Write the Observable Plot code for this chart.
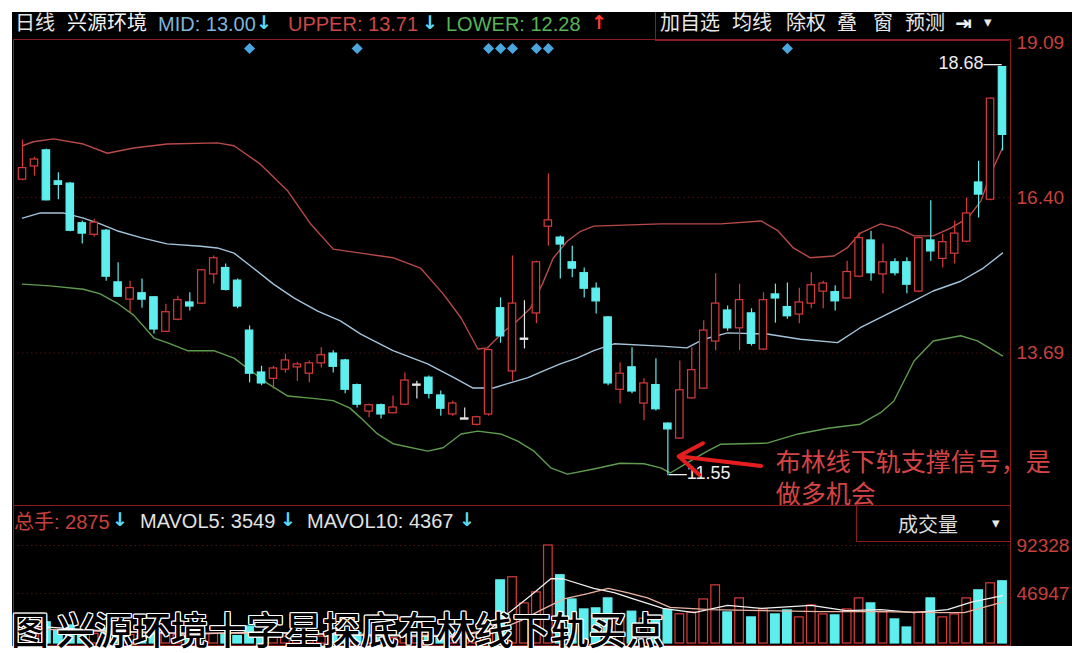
<!DOCTYPE html>
<html>
<head>
<meta charset="utf-8">
<script src="https://cdn.jsdelivr.net/npm/d3@7"></script>
<script src="https://cdn.jsdelivr.net/npm/@observablehq/plot@0.6"></script>
<style>
html,body{margin:0;padding:0;background:#fff;}
#wrap{position:relative;width:1072px;height:653px;overflow:hidden;background:#fff;font-family:"Liberation Sans","Noto Sans CJK SC",sans-serif;}
#panel{position:absolute;left:12px;top:12px;width:1060px;height:634px;background:#000;}
.abs{position:absolute;white-space:nowrap;line-height:1;}
.cjk{font-family:"Noto Sans CJK SC",sans-serif;}
.arr{font-family:"DejaVu Sans",sans-serif;font-weight:bold;}
.layer{position:absolute;left:0;}
.caption{text-shadow:1px 1px 0 #fff,-1px -1px 0 #fff,1px -1px 0 #fff,-1px 1px 0 #fff,0 1px 0 #fff,0 -1px 0 #fff,1px 0 0 #fff,-1px 0 0 #fff;}
</style>
</head>
<body>
<div id="wrap">
  <div id="panel"></div>
  <div id="pricePlot" class="layer" style="top:0"></div>
  <div id="volPlot" class="layer" style="top:505px"></div>

  <!-- price header -->
  <div class="abs cjk" style="left:15px;top:12px;font-size:20px;color:#e4e4e4">日线</div>
  <div class="abs cjk" style="left:67px;top:12px;font-size:20px;color:#f2f2f2">兴源环境</div>
  <div class="abs" style="left:158px;top:14px;font-size:20px;color:#7fb3da">MID: 13.00</div>
  <div class="abs arr" style="left:256px;top:13px;font-size:19px;color:#5fd8f0">↓</div>
  <div class="abs" style="left:288px;top:14px;font-size:20px;color:#c94848">UPPER: 13.71</div>
  <div class="abs arr" style="left:422px;top:13px;font-size:19px;color:#5fd8f0">↓</div>
  <div class="abs" style="left:446px;top:14px;font-size:20px;color:#56b456">LOWER: 12.28</div>
  <div class="abs arr" style="left:591px;top:13px;font-size:19px;color:#ff3a3a">↑</div>

  <!-- toolbar -->
  <div class="abs" style="left:655px;top:12px;width:353px;height:28px;border-left:1px solid #8a1c1c;border-bottom:1px solid #8a1c1c;"></div>
  <div class="abs cjk" style="left:660px;top:12px;font-size:20px;color:#e8e8e8">加自选</div>
  <div class="abs cjk" style="left:732px;top:12px;font-size:20px;color:#e8e8e8">均线</div>
  <div class="abs cjk" style="left:786px;top:12px;font-size:20px;color:#e8e8e8">除权</div>
  <div class="abs cjk" style="left:837px;top:12px;font-size:20px;color:#e8e8e8">叠</div>
  <div class="abs cjk" style="left:873px;top:12px;font-size:20px;color:#e8e8e8">窗</div>
  <div class="abs cjk" style="left:905px;top:12px;font-size:20px;color:#e8e8e8">预测</div>
  <div class="abs arr" style="left:955px;top:13px;font-size:20px;color:#f0f0f0">⇥</div>
  <div class="abs arr" style="left:984px;top:15px;font-size:15px;color:#e8e8e8">▾</div>

  <!-- volume header -->
  <div class="abs" style="left:14px;top:511px;font-size:20px;color:#c8403c"><span class="cjk">总手</span>: 2875</div>
  <div class="abs arr" style="left:112px;top:510px;font-size:19px;color:#5fd8f0">↓</div>
  <div class="abs" style="left:140px;top:511px;font-size:20px;color:#e2e2e2">MAVOL5: 3549</div>
  <div class="abs arr" style="left:280px;top:510px;font-size:19px;color:#5fd8f0">↓</div>
  <div class="abs" style="left:307px;top:511px;font-size:20px;color:#e2e2e2">MAVOL10: 4367</div>
  <div class="abs arr" style="left:459px;top:510px;font-size:19px;color:#5fd8f0">↓</div>
  <div class="abs" style="left:856px;top:505px;width:154px;height:36px;border-left:1px solid #8a1c1c;border-bottom:1px solid #8a1c1c;"></div>
  <div class="abs cjk" style="left:898px;top:514px;font-size:20px;color:#dcdcdc">成交量</div>
  <div class="abs arr" style="left:992px;top:516px;font-size:15px;color:#e8e8e8">▾</div>

  <!-- caption -->
  <div class="abs cjk caption" style="left:11px;top:609px;font-size:38px;font-weight:500;color:#000">图&#8201;兴源环境十字星探底布林线下轨买点</div>
</div>

<script>
// ---- daily OHLC (index 0 = leftmost candle) ----
const open  = [16.72,16.95,17.21,16.67,16.63,15.94,15.76,15.81,14.91,14.63,14.72,14.65,14.07,14.28,14.56,14.56,15.07,15.16,14.94,14.07,
               13.34,13.25,13.41,13.45,13.34,13.52,13.67,13.55,13.12,12.68,12.77,12.65,12.80,13.13,13.25,12.94,12.63,12.54,12.45,12.63,
               14.46,13.38,13.93,14.39,15.90,15.69,15.26,15.07,14.80,14.30,13.06,13.43,12.82,13.12,12.45,12.21,12.91,13.08,13.90,14.42,
               14.13,14.37,13.76,14.70,14.48,14.37,14.56,14.77,14.74,14.65,15.03,15.64,15.07,15.26,15.26,14.77,15.64,15.34,15.43,15.64,
               16.65,16.37,18.66];
const high  = [17.40,17.10,17.24,16.83,16.66,15.99,16.02,15.84,15.26,14.94,14.98,14.67,14.54,14.68,14.74,15.15,15.38,15.24,14.98,14.16,
               13.46,13.46,13.67,13.52,13.55,13.78,13.73,13.58,13.15,12.80,12.80,12.94,13.34,13.20,13.29,13.03,12.85,12.73,12.59,13.76,
               14.65,15.38,14.60,15.29,16.81,15.73,15.55,15.17,14.91,14.32,13.52,13.78,13.24,13.59,12.47,13.55,13.78,14.25,15.07,14.51,
               14.89,14.46,14.74,14.89,14.91,14.82,15.09,14.94,14.86,15.29,15.78,15.81,15.59,15.33,15.35,15.71,16.34,15.76,15.99,16.39,
               17.03,18.13,18.68];
const low   = [16.69,16.77,16.34,16.36,15.80,15.59,15.71,14.94,14.66,14.39,14.47,14.02,14.05,14.25,14.42,14.54,14.89,14.77,14.46,13.17,
               13.12,13.06,13.34,13.20,13.17,13.43,13.34,12.98,12.73,12.56,12.54,12.63,12.77,12.89,12.89,12.59,12.59,12.54,12.42,12.59,
               13.86,13.20,13.76,14.20,15.55,14.98,15.00,14.65,14.37,13.12,12.80,12.98,12.51,12.68,11.55,12.19,12.89,13.06,13.73,14.07,
               13.73,13.81,13.73,14.21,14.28,14.20,14.46,14.46,14.42,14.63,15.00,14.94,14.72,15.03,14.72,14.74,15.29,15.17,15.24,15.61,
               16.04,16.34,17.21];
const close = [16.90,17.05,16.36,16.63,15.83,15.78,15.95,15.03,14.68,14.81,14.63,14.11,14.39,14.60,14.51,15.12,15.33,14.80,14.51,13.34,
               13.17,13.41,13.55,13.48,13.50,13.64,13.46,13.06,12.80,12.77,12.63,12.73,13.20,13.13,12.99,12.73,12.80,12.54,12.56,13.73,
               13.99,14.54,13.93,15.26,15.99,15.59,15.17,14.82,14.60,13.17,13.32,13.03,13.15,12.72,12.37,13.03,13.38,14.07,14.54,14.13,
               14.60,13.86,14.60,14.65,14.34,14.56,14.86,14.89,14.60,15.09,15.68,15.09,15.26,15.09,14.89,15.68,15.47,15.61,15.76,16.11,
               16.46,18.11,17.50];
// ---- daily volume (手) ----
const volume = [18000,15000,20000,12000,17000,10000,9000,14000,11000,8000,7000,12000,9000,8000,6000,10000,9000,8000,7000,16000,
                9000,7000,6500,5500,6000,6500,7000,9000,10000,6000,5500,5000,8000,6000,6500,7000,5000,4500,5500,20000,
                59500,62400,37800,48200,92328,64300,41500,32100,33100,42500,22500,30000,23500,21700,31500,27500,29300,41500,54800,29300,
                42500,24600,32100,27400,31200,24600,35900,27400,26500,32100,42500,37800,29300,22700,15100,29300,42500,24600,27400,42500,
                50100,56700,58600];

// ---- Bollinger bands (position index, price) ----
const upperIdx = [0,0.9,2.6,5.1,7.1,9.3,12.1,16.3,17.7,19.9,22.2,24.1,26.0,28.3,31.0,33.3,35.2,36.7,38.1,38.9,40.3,41.4,42.5,43.5,44.4,45.6,46.7,47.8,53.4,58.4,61.8,63.2,64.5,65.9,67.9,69.0,70.1,71.8,73.2,74.6,76.2,77.7,79.1,80.2,81.0,82];
const upperVal = [17.30,17.37,17.42,17.33,17.17,17.26,17.33,17.35,17.30,16.98,16.51,15.94,15.50,15.43,15.35,15.17,14.72,14.30,13.76,13.78,14.07,14.25,14.47,14.89,15.34,15.64,15.81,15.90,15.94,15.94,15.99,15.82,15.52,15.35,15.38,15.52,15.78,15.94,15.87,15.73,15.73,15.87,16.04,16.34,16.81,17.26];
const midIdx = [0,1.5,3.4,5.1,6.5,7.9,9.9,12.1,14.9,16.3,17.7,19.3,21.0,22.7,24.7,26.6,28.3,31.0,33.9,36.1,37.7,39.4,40.8,42.3,43.6,45.0,46.4,47.8,49.5,53.4,55.6,57.0,59.0,62.3,65.1,68.2,70.1,72.4,74.6,76.2,78.5,80.4,82];
const midVal = [16.04,16.13,16.13,16.04,15.94,15.82,15.70,15.59,15.55,15.52,15.43,15.17,14.89,14.65,14.42,14.25,14.02,13.73,13.50,13.26,13.08,13.08,13.17,13.26,13.38,13.50,13.60,13.73,13.85,13.81,13.78,13.93,14.04,14.02,13.93,13.87,14.13,14.37,14.60,14.77,14.94,15.17,15.43];
const lowerIdx = [0,2.3,5.1,6.5,7.9,9.3,11.0,12.1,13.8,16.0,17.7,19.1,20.5,22.2,24.7,26.0,27.4,28.3,29.7,31.0,33.9,35.2,36.7,38.1,40.0,41.4,42.8,44.2,45.6,47.8,50.0,52.0,53.4,54.2,55.9,57.3,58.4,62.3,64.9,67.4,70.1,71.8,72.9,74.6,76.2,78.5,79.9,82];
const lowerVal = [14.89,14.86,14.80,14.72,14.56,14.35,13.95,13.87,13.73,13.73,13.60,13.38,13.16,12.94,12.89,12.86,12.73,12.56,12.28,12.11,11.98,12.04,12.28,12.33,12.28,12.16,11.98,11.69,11.58,11.67,11.77,11.76,11.69,11.60,11.81,11.98,12.10,12.12,12.28,12.38,12.45,12.65,12.85,13.55,13.90,13.99,13.90,13.64];

// ---- volume moving averages ----
const mavol5Idx = [0,6.5,14.9,19.9,27.4,35.8,39,40.6,42.5,44.2,45.2,47.8,49.5,51.1,53.6,56.2,59,61.8,66,68.9,71.8,74.6,77.4,79.4,82];
const mavol5Val = [17000,12000,9000,11000,8000,6500,12000,28000,45000,61000,61000,52000,48000,42000,33000,29000,36000,33000,36000,31000,32000,29000,32000,39000,45000];
const mavol10Idx = [0,10.7,23.3,35.8,40,41.7,43.3,45.3,47.3,49,50.6,52.3,54.2,57.6,61.8,66.8,71.8,76.8,78.8,82];
const mavol10Val = [14000,10000,9500,7500,14000,21500,31000,42000,47000,52000,48000,43000,34000,32000,31000,30000,30000,29000,29000,39000];

// ---- axis ticks and signal markers ----
const priceTicks = [19.09, 16.40, 13.69];
const volTicks = [92328, 46947];
const signalIdx = [19, 28, 39, 40, 41, 43, 44, 64];
const noteText = "布林线下轨支撑信号，是\n做多机会";

// ---- build ----
const UP = "#d93b3b", DOWN = "#5eeeee", FLAT = "#e6e6e6";
const candles = open.map((o, i) => ({
  i, o, h: high[i], l: low[i], c: close[i], v: volume[i],
  col: close[i] > o ? UP : close[i] < o ? DOWN : FLAT
}));
const pts = (xs, ys) => xs.map((x, k) => ({x, y: ys[k]}));
const n = open.length;
const xScale = {domain: [0, n - 1], range: [22, 1002], axis: null};
const loI = d3.minIndex(low), hiI = d3.maxIndex(high);
const font = "Liberation Sans, Noto Sans CJK SC, sans-serif";

const price = Plot.plot({
  width: 1072, height: 506,
  marginLeft: 13, marginRight: 62, marginTop: 39, marginBottom: 1,
  style: {background: "transparent", fontFamily: font, overflow: "visible"},
  x: xScale,
  y: {domain: [13.69, 19.09], range: [352.5, 42.5], axis: null},
  color: {type: "identity"},
  marks: [
    Plot.ruleY(priceTicks.slice(1), {stroke: "#4a1212", strokeDasharray: "1.5,3"}),
    Plot.frame({stroke: "#8a1c1c"}),
    Plot.line(pts(upperIdx, upperVal), {x: "x", y: "y", stroke: "#b84a4a", strokeWidth: 1.4}),
    Plot.line(pts(midIdx, midVal), {x: "x", y: "y", stroke: "#a4c4dc", strokeWidth: 1.4}),
    Plot.line(pts(lowerIdx, lowerVal), {x: "x", y: "y", stroke: "#5f9c50", strokeWidth: 1.4}),
    Plot.ruleX(candles, {x: "i", y1: "l", y2: "h", stroke: "col", strokeWidth: 1.2}),
    Plot.rect(candles, {
      x1: d => d.i - 0.31, x2: d => d.i + 0.31, y1: "o", y2: "c",
      insetTop: -0.6, insetBottom: -0.6,
      fill: d => d.col === DOWN ? DOWN : "#000", stroke: "col", strokeWidth: 1.2
    }),
    Plot.dot(signalIdx, {x: d => d, frameAnchor: "top", dy: 9, symbol: "diamond2", r: 5, fill: "#4aa6de"}),
    Plot.axisY(priceTicks, {anchor: "right", tickSize: 0, tickPadding: 6, tickFormat: d => d.toFixed(2),
      color: "#c8403c", fill: "#c8403c", fontSize: 19}),
    // highest price label
    Plot.text([hiI], {x: d => d, y: d => high[d], text: d => high[d].toFixed(2) + "—",
      textAnchor: "end", dx: -1, dy: -3, fill: "#ededed", fontSize: 18}),
    // lowest price label
    Plot.text([loI], {x: d => d, y: d => low[d], text: d => "—" + low[d].toFixed(2),
      textAnchor: "start", dx: 1, dy: -3, fill: "#ededed", fontSize: 18}),
    // red arrow to the support point
    Plot.arrow([loI], {x1: d => d + 7.8, y1: d => low[d] + 0.17, x2: d => d + 0.9, y2: d => low[d] + 0.34,
      stroke: "#e41e1e", strokeWidth: 4, headLength: 13, headAngle: 70}),
    Plot.text([loI], {x: d => d, y: d => low[d], dx: 108, dy: -28, text: () => noteText,
      textAnchor: "start", lineAnchor: "top", lineHeight: 1.3, fill: "#d44444", fontSize: 25,
      fontFamily: "Noto Sans CJK SC"})
  ]
});
document.getElementById("pricePlot").appendChild(price);

const vol = Plot.plot({
  width: 1072, height: 141,
  marginLeft: 13, marginRight: 62, marginTop: 0, marginBottom: 1,
  style: {background: "transparent", fontFamily: font, overflow: "visible"},
  x: xScale,
  y: {domain: [0, 92328], range: [138, 40], axis: null},
  color: {type: "identity"},
  marks: [
    Plot.ruleY(volTicks, {stroke: "#4a1212", strokeDasharray: "1.5,3"}),
    Plot.frame({stroke: "#8a1c1c"}),
    Plot.rect(candles, {
      x1: d => d.i - 0.36, x2: d => d.i + 0.36, y1: 0, y2: "v",
      fill: d => d.col === DOWN ? DOWN : "#000", stroke: d => d.col === DOWN ? DOWN : UP, strokeWidth: 1.2
    }),
    Plot.line(pts(mavol5Idx, mavol5Val), {x: "x", y: "y", stroke: "#f0f0f0", strokeWidth: 1.3}),
    Plot.line(pts(mavol10Idx, mavol10Val), {x: "x", y: "y", stroke: "#e8b4a4", strokeWidth: 1.3}),
    Plot.axisY(volTicks, {anchor: "right", tickSize: 0, tickPadding: 6, tickFormat: d => String(d),
      color: "#c8403c", fill: "#c8403c", fontSize: 19})
  ]
});
document.getElementById("volPlot").appendChild(vol);
</script>
</body>
</html>
